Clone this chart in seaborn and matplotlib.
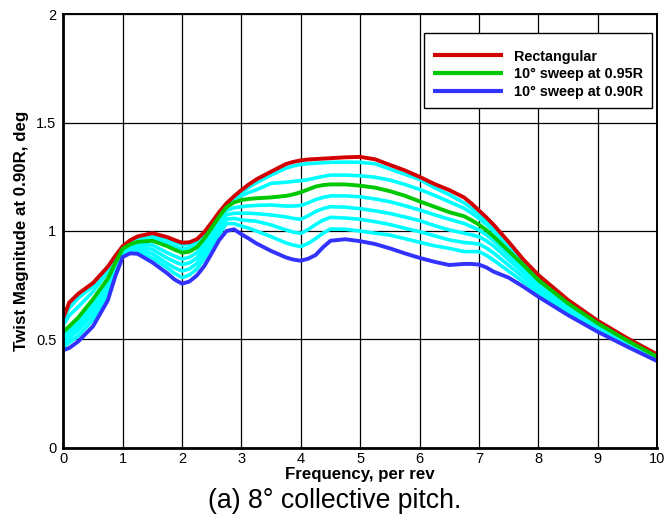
import numpy as np
import pandas as pd
import matplotlib
matplotlib.use("Agg")
import matplotlib.pyplot as plt
import seaborn as sns
from matplotlib.ticker import MultipleLocator, FixedLocator

# ---- data ----
freq = [0, 0.1, 0.25, 0.5, 0.75, 0.875, 1.0, 1.125, 1.25, 1.5, 1.75, 1.875, 2.0,
        2.125, 2.25, 2.375, 2.5, 2.625, 2.75, 2.875, 3.0, 3.125, 3.25, 3.5, 3.75,
        3.875, 4.0, 4.125, 4.25, 4.375, 4.5, 4.75, 5.0, 5.25, 5.5, 5.75, 6.0, 6.25,
        6.5, 6.75, 6.875, 7.0, 7.125, 7.25, 7.5, 7.75, 8.0, 8.5, 9.0, 9.5, 10.0]

rect = [0.60, 0.67, 0.71, 0.76, 0.835, 0.885, 0.93, 0.957, 0.975, 0.99, 0.972, 0.958,
        0.946, 0.948, 0.962, 0.995, 1.04, 1.087, 1.128, 1.16, 1.189, 1.215, 1.238,
        1.274, 1.309, 1.319, 1.326, 1.33, 1.332, 1.334, 1.336, 1.34, 1.342, 1.331,
        1.305, 1.28, 1.25, 1.217, 1.189, 1.155, 1.127, 1.095, 1.063, 1.028, 0.95,
        0.868, 0.797, 0.682, 0.586, 0.505, 0.431]
cyan1 = [0.59, 0.645, 0.69, 0.745, 0.825, 0.878, 0.927, 0.952, 0.968, 0.982, 0.962,
         0.948, 0.935, 0.939, 0.955, 0.99, 1.036, 1.083, 1.125, 1.153, 1.178, 1.202,
         1.222, 1.258, 1.29, 1.3, 1.308, 1.311, 1.313, 1.315, 1.317, 1.318, 1.317,
         1.31, 1.286, 1.262, 1.238, 1.2, 1.168, 1.13, 1.105, 1.078, 1.048, 1.015,
         0.937, 0.86, 0.79, 0.678, 0.583, 0.502, 0.428]
cyan2 = [0.565, 0.61, 0.65, 0.72, 0.81, 0.868, 0.922, 0.946, 0.96, 0.968, 0.945,
         0.93, 0.915, 0.922, 0.94, 0.978, 1.028, 1.077, 1.12, 1.143, 1.163, 1.178,
         1.19, 1.22, 1.225, 1.229, 1.232, 1.237, 1.245, 1.252, 1.258, 1.258, 1.255,
         1.248, 1.235, 1.215, 1.192, 1.165, 1.135, 1.105, 1.083, 1.058, 1.03, 0.998,
         0.924, 0.852, 0.782, 0.672, 0.579, 0.498, 0.424]
sweep95 = [0.535, 0.56, 0.60, 0.685, 0.78, 0.852, 0.918, 0.938, 0.95, 0.955, 0.93,
           0.914, 0.90, 0.905, 0.925, 0.965, 1.015, 1.066, 1.11, 1.132, 1.143, 1.148,
           1.151, 1.155, 1.162, 1.169, 1.179, 1.192, 1.205, 1.212, 1.215, 1.215,
           1.209, 1.2, 1.184, 1.163, 1.137, 1.112, 1.087, 1.068, 1.05, 1.03, 1.004,
           0.974, 0.908, 0.843, 0.774, 0.666, 0.574, 0.494, 0.42]
cyan3 = [0.52, 0.54, 0.58, 0.66, 0.765, 0.84, 0.912, 0.93, 0.94, 0.935, 0.90, 0.884,
         0.87, 0.879, 0.90, 0.942, 0.995, 1.048, 1.095, 1.107, 1.112, 1.116, 1.118,
         1.12, 1.115, 1.115, 1.118, 1.13, 1.145, 1.155, 1.162, 1.162, 1.158, 1.148,
         1.135, 1.117, 1.097, 1.075, 1.054, 1.035, 1.02, 1.005, 0.982, 0.955, 0.89,
         0.826, 0.762, 0.656, 0.567, 0.488, 0.415]
cyan4 = [0.50, 0.525, 0.56, 0.64, 0.745, 0.825, 0.905, 0.922, 0.93, 0.915, 0.875,
         0.858, 0.845, 0.853, 0.875, 0.92, 0.975, 1.028, 1.075, 1.082, 1.082, 1.082,
         1.08, 1.074, 1.065, 1.058, 1.054, 1.07, 1.09, 1.103, 1.112, 1.11, 1.103,
         1.093, 1.081, 1.065, 1.048, 1.025, 1.005, 0.99, 0.982, 0.974, 0.955, 0.93,
         0.868, 0.808, 0.747, 0.645, 0.559, 0.482, 0.41]
cyan5 = [0.48, 0.505, 0.54, 0.615, 0.725, 0.81, 0.898, 0.912, 0.918, 0.895, 0.85,
         0.83, 0.815, 0.825, 0.85, 0.897, 0.955, 1.008, 1.055, 1.058, 1.051, 1.048,
         1.045, 1.028, 1.005, 0.995, 0.989, 1.007, 1.03, 1.05, 1.063, 1.06, 1.054,
         1.043, 1.03, 1.013, 0.997, 0.978, 0.959, 0.947, 0.944, 0.94, 0.922, 0.898,
         0.842, 0.787, 0.731, 0.634, 0.551, 0.477, 0.406]
cyan6 = [0.465, 0.485, 0.515, 0.59, 0.70, 0.795, 0.89, 0.903, 0.905, 0.875, 0.83,
         0.804, 0.785, 0.797, 0.825, 0.872, 0.93, 0.985, 1.035, 1.034, 1.023, 1.013,
         1.0, 0.974, 0.945, 0.935, 0.928, 0.943, 0.965, 0.99, 1.009, 1.008, 1.0,
         0.99, 0.981, 0.965, 0.948, 0.932, 0.92, 0.905, 0.905, 0.905, 0.888, 0.865,
         0.815, 0.765, 0.715, 0.623, 0.543, 0.471, 0.403]
sweep90 = [0.45, 0.46, 0.49, 0.56, 0.68, 0.79, 0.88, 0.897, 0.895, 0.855, 0.805,
           0.776, 0.757, 0.767, 0.795, 0.838, 0.897, 0.958, 1.0, 1.008, 0.985, 0.965,
           0.943, 0.908, 0.878, 0.868, 0.863, 0.872, 0.889, 0.925, 0.955, 0.962,
           0.953, 0.94, 0.92, 0.897, 0.876, 0.858, 0.843, 0.848, 0.848, 0.845,
           0.832, 0.812, 0.785, 0.743, 0.697, 0.612, 0.535, 0.466, 0.40]

legend_labels = ["Rectangular", "10\u00b0 sweep at 0.95R", "10\u00b0 sweep at 0.90R"]
x_ticks = [0, 1, 2, 3, 4, 5, 6, 7, 8, 9, 10]
y_ticks = [0, 0.5, 1, 1.5, 2]
y_tick_labels = ["0", "0.5", "1", "1.5", "2"]

# ---- style ----
sns.set_style("white", rc={"text.color": "black", "axes.labelcolor": "black",
                           "xtick.color": "black", "ytick.color": "black"})
plt.rcParams["font.family"] = ["Liberation Sans", "DejaVu Sans"]

fig = plt.figure(figsize=(6.64, 5.27), dpi=100)
ax = fig.add_axes([63.3 / 664, 1 - 447.7 / 527, (657 - 63.3) / 664, (447.7 - 14.3) / 527])

line_kw = dict(solid_joinstyle="round", solid_capstyle="butt")

cyan_series = {"c1": cyan1, "c2": cyan2, "c3": cyan3, "c4": cyan4, "c5": cyan5, "c6": cyan6}
cyan_df = pd.concat(
    [pd.DataFrame({"freq": freq, "mag": v, "case": k}) for k, v in cyan_series.items()],
    ignore_index=True)
sns.lineplot(data=cyan_df, x="freq", y="mag", hue="case", units="case", estimator=None,
             palette=["#00FFFF"] * 6, lw=2.6, legend=False, sort=False, ax=ax,
             zorder=3, **line_kw)

main_series = [(rect, legend_labels[0], "#D20000"),
               (sweep95, legend_labels[1], "#00C800"),
               (sweep90, legend_labels[2], "#3232FF")]
for vals, lab, col in main_series:
    sns.lineplot(x=freq, y=vals, color=col, lw=2.8, label=lab, sort=False, ax=ax,
                 zorder=4, **line_kw)

ax.set_xlim(0, 10)
ax.set_ylim(0, 2)
ax.xaxis.set_major_locator(FixedLocator(x_ticks))
ax.yaxis.set_major_locator(FixedLocator(y_ticks))
ax.set_yticklabels(y_tick_labels)
ax.xaxis.set_minor_locator(MultipleLocator(0.2))
ax.yaxis.set_minor_locator(MultipleLocator(0.1))
ax.grid(True, which="major", color="black", lw=0.9, zorder=1)
ax.tick_params(which="both", direction="in", top=False, right=False,
               labelsize=10.5, colors="black")
ax.tick_params(which="major", length=0, pad=5)
ax.tick_params(axis="x", which="major", pad=3)
ax.tick_params(which="minor", length=4.5, width=0.9)
for side in ["left", "bottom"]:
    ax.spines[side].set_linewidth(2.0)
for side in ["top", "right"]:
    ax.spines[side].set_linewidth(1.4)
for s in ax.spines.values():
    s.set_color("black")
    s.set_zorder(5)

ax.set_xlabel("Frequency, per rev", fontsize=12.2, fontweight="bold", labelpad=1)
ax.set_ylabel("Twist Magnitude at 0.90R, deg", fontsize=12.2, fontweight="bold",
              labelpad=5)

leg = ax.legend(loc="upper right", bbox_to_anchor=(0.9916, 0.9569), borderaxespad=0,
                frameon=True, fancybox=False, edgecolor="black", framealpha=1,
                prop={"weight": "bold", "size": 10.4}, handlelength=4.85,
                handletextpad=0.78, labelspacing=0.27, borderpad=0.6,
                title=" ", title_fontsize=3)
leg.get_frame().set_linewidth(1.0)
for ln in leg.get_lines():
    ln.set_linewidth(3.0)
leg.set_zorder(6)

fig.text(335 / 664, 1 - 501 / 527, "(a) 8\u00b0 collective pitch.", fontsize=19.2,
         ha="center", va="center", color="black")

fig.savefig("out.png", dpi=100)
